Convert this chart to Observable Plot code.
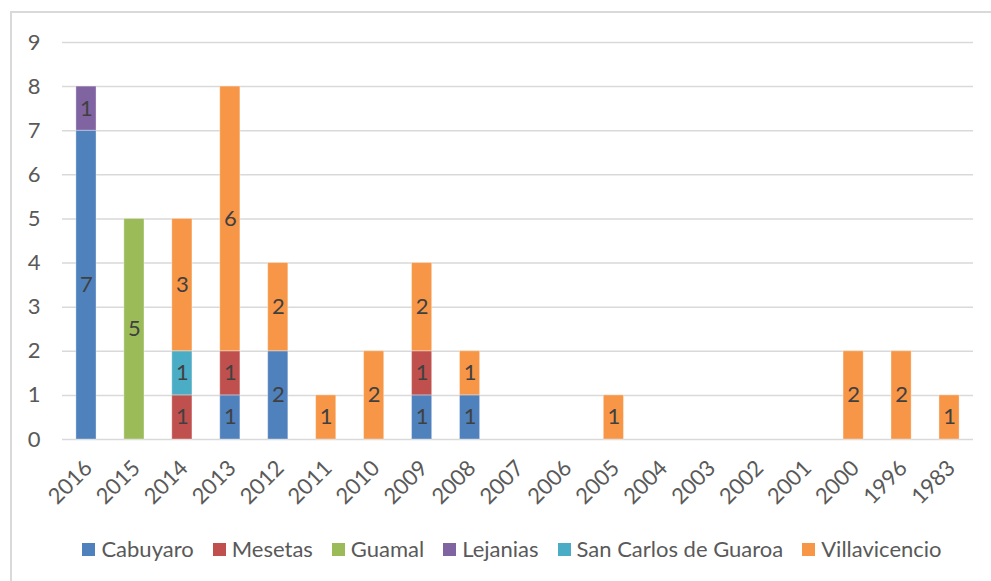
<!DOCTYPE html>
<html>
<head>
<meta charset="utf-8">
<script src="https://cdn.jsdelivr.net/npm/d3@7"></script>
<script src="https://cdn.jsdelivr.net/npm/@observablehq/plot@0.6"></script>
<style>
  html, body { margin: 0; padding: 0; background: #fff; }
  body { width: 991px; height: 581px; overflow: hidden; position: relative; font-family: Lato, sans-serif; }
  #frame { position: absolute; left: 10px; top: 11px; width: 1100px; height: 700px; border-left: 2px solid #d9d9d9; border-top: 2px solid #d9d9d9; pointer-events: none; }
  #chart { position: absolute; left: 0; top: 0; }
  #legend { position: absolute; left: 0; top: 536px; width: 1024px; display: flex; justify-content: center; gap: 19px; font-size: 22px; color: #595959; line-height: 26px; }
  .item { display: flex; align-items: center; white-space: nowrap; }
  .sw { width: 13px; height: 13px; margin-right: 6px; display: inline-block; }
</style>
</head>
<body>
<div id="frame"></div>
<div id="chart"></div>
<div id="legend"></div>
<script>
const years = ["2016","2015","2014","2013","2012","2011","2010","2009","2008","2007","2006","2005","2004","2003","2002","2001","2000","1996","1983"];
const seriesNames = ["Cabuyaro","Mesetas","Guamal","Lejanias","San Carlos de Guaroa","Villavicencio"];
const seriesColors = ["#4f81bd","#c0504d","#9bbb59","#8064a2","#4bacc6","#f79646"];
const cabuyaro      = [7,0,0,1,2,0,0,1,1,0,0,0,0,0,0,0,0,0,0];
const mesetas       = [0,0,1,1,0,0,0,1,0,0,0,0,0,0,0,0,0,0,0];
const guamal        = [0,5,0,0,0,0,0,0,0,0,0,0,0,0,0,0,0,0,0];
const lejanias      = [1,0,0,0,0,0,0,0,0,0,0,0,0,0,0,0,0,0,0];
const sanCarlos     = [0,0,1,0,0,0,0,0,0,0,0,0,0,0,0,0,0,0,0];
const villavicencio = [0,0,3,6,2,1,2,2,1,0,0,1,0,0,0,0,2,2,1];
const yTicks = [0,1,2,3,4,5,6,7,8,9];

const seriesValues = [cabuyaro, mesetas, guamal, lejanias, sanCarlos, villavicencio];
const data = [];
seriesNames.forEach((s, i) => {
  years.forEach((y, j) => {
    if (seriesValues[i][j] > 0) data.push({year: y, series: s, value: seriesValues[i][j]});
  });
});

const chart = Plot.plot({
  width: 991,
  height: 520,
  marginLeft: 62,
  marginRight: 18,
  marginTop: 42,
  marginBottom: 81,
  style: {fontFamily: "Lato, sans-serif", fontSize: "22px", color: "#595959", background: "transparent"},
  x: {domain: years, paddingInner: 0.58, paddingOuter: 0.29, round: false, label: null},
  y: {domain: [0, 9], label: null},
  color: {domain: seriesNames, range: seriesColors},
  marks: [
    Plot.gridY(yTicks, {stroke: "#d9d9d9", strokeOpacity: 1, strokeWidth: 1.5}),
    Plot.axisY(yTicks, {tickSize: 0, tickPadding: 22, label: null, fill: "#595959", fontSize: 22}),
    Plot.axisX({tickSize: 0, tickPadding: 8, tickRotate: -45, label: null, dx: 2, dy: 17, fill: "#595959", fontSize: 22}),
    Plot.barY(data, {x: "year", y: "value", fill: "series", order: seriesNames, stroke: "#ffffff", strokeOpacity: 0.35, strokeWidth: 1}),
    Plot.text(data, Plot.stackY({x: "year", y: "value", z: "series", order: seriesNames, text: d => String(d.value), fill: "#404040", fontSize: 22})),
  ]
});
document.getElementById("chart").appendChild(chart);

const legend = document.getElementById("legend");
seriesNames.forEach((s, i) => {
  const it = document.createElement("div");
  it.className = "item";
  const sw = document.createElement("span");
  sw.className = "sw";
  sw.style.background = seriesColors[i];
  it.appendChild(sw);
  it.appendChild(document.createTextNode(s));
  legend.appendChild(it);
});
</script>
</body>
</html>
